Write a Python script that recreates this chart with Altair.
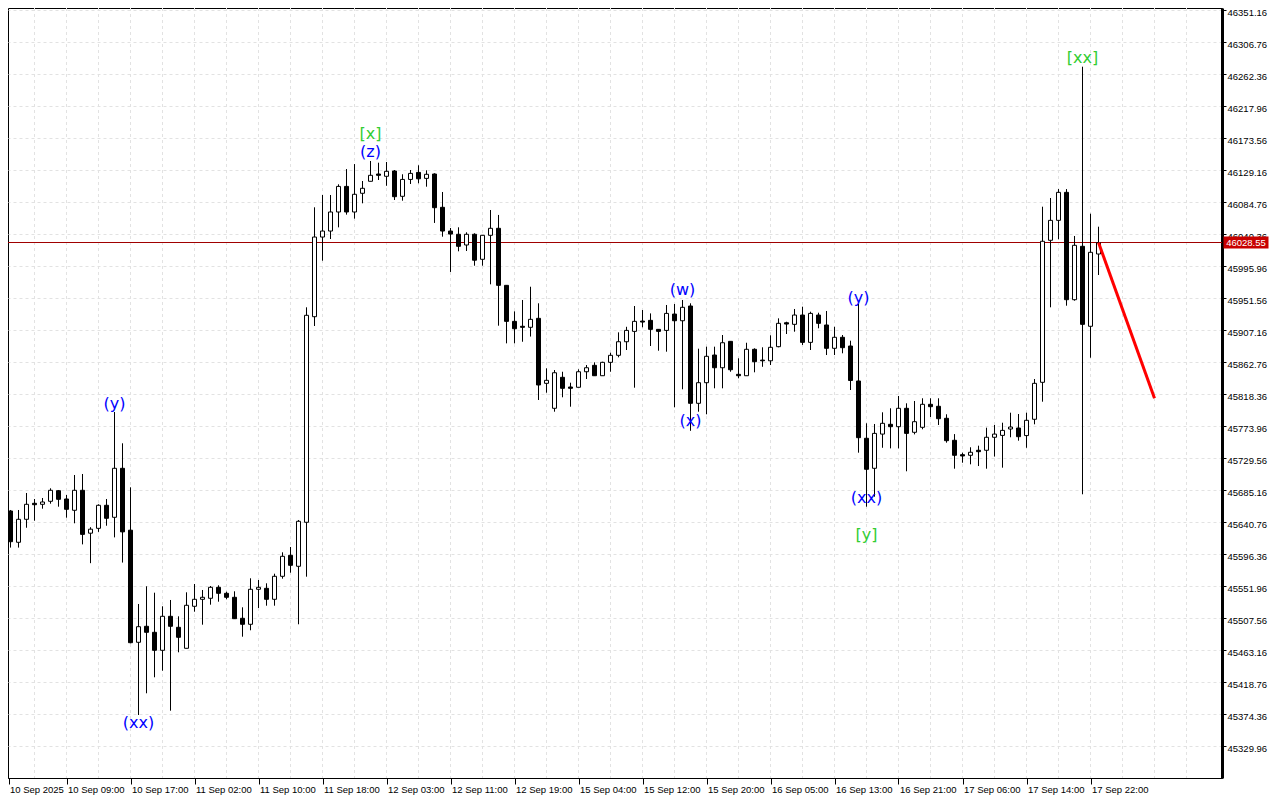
import altair as alt
import pandas as pd

# ---- OHLC data (H1 candles) ----
opens = [45644.51, 45656.03, 45612.60, 45644.51, 45666.71, 45665.32, 45669.49, 45684.19, 45672.68, 45657.00,
         45684.75, 45625.24, 45631.96, 45663.94, 45647.28, 45715.27, 45629.40, 45473.85, 45496.05, 45487.72,
         45462.74, 45509.92, 45494.66, 45465.52, 45523.80, 45533.51, 45534.90, 45550.16, 45541.83, 45536.29,
         45507.15, 45498.83, 45547.39, 45548.77, 45533.51, 45565.42, 45594.56, 45579.30, 45640.35, 45925.62,
         46036.14, 46044.46, 46070.90, 46106.41, 46070.90, 46096.84, 46113.49, 46123.61, 46120.43, 46127.78,
         46092.67, 46116.08, 46125.84, 46117.52, 46123.61, 46077.41, 46044.46, 46039.95, 46025.10, 46039.95,
         46005.25, 46038.56, 46048.27, 45969.13, 45919.17, 45912.30, 45910.91, 45923.34, 45833.16, 45798.52,
         45841.53, 45828.08, 45827.67, 45849.25, 45858.14, 45843.71, 45862.30, 45872.02, 45890.86, 45905.26,
         45919.58, 45920.55, 45908.07, 45906.60, 45929.29, 45920.00, 45940.46, 45805.46, 45834.04, 45872.43,
         45854.80, 45891.42, 45845.65, 45843.71, 45880.38, 45865.41, 45864.44, 45884.01, 45917.24, 45915.02,
         45927.91, 45890.03, 45927.91, 45914.10, 45881.77, 45897.04, 45884.96, 45836.40, 45756.92, 45715.27,
         45762.74, 45776.32, 45772.99, 45798.52, 45765.22, 45772.15, 45804.07, 45801.30, 45784.65, 45754.14,
         45734.16, 45733.33, 45740.27, 45740.27, 45758.31, 45760.94, 45769.79, 45771.18, 45760.67, 45783.27,
         45834.59, 46031.62, 46059.29, 46098.14, 45949.21, 46023.29, 45912.30, 46012.61]
highs = [45658.80, 45657.41, 45657.41, 45681.00, 45672.68, 45674.07, 45687.53, 45685.17, 45678.23, 45705.98,
         45707.37, 45633.57, 45665.32, 45672.68, 45793.39, 45749.96, 45688.91, 45526.99, 45551.55, 45542.67,
         45523.80, 45532.54, 45509.92, 45543.21, 45554.74, 45546.42, 45551.96, 45552.94, 45544.05, 45544.60,
         45522.41, 45562.66, 45560.29, 45555.71, 45569.03, 45598.72, 45606.08, 45643.54, 45938.66, 46077.41,
         46094.48, 46094.48, 46109.32, 46130.45, 46137.39, 46113.90, 46141.66, 46139.30, 46140.27, 46129.16,
         46123.20, 46129.16, 46135.69, 46128.74, 46124.59, 46098.64, 46048.69, 46049.66, 46042.72, 46041.35,
         46038.56, 46073.66, 46066.80, 45969.13, 45933.04, 45948.79, 45967.21, 45944.21, 45853.97, 45851.61,
         45849.25, 45834.04, 45852.58, 45858.56, 45862.30, 45863.14, 45875.62, 45903.92, 45911.61, 45940.46,
         45934.91, 45930.20, 45908.07, 45941.85, 45943.24, 45948.79, 45944.21, 45881.23, 45884.01, 45884.01,
         45900.21, 45891.42, 45867.90, 45889.48, 45881.77, 45883.16, 45899.82, 45923.34, 45918.63, 45936.30,
         45939.49, 45932.56, 45931.17, 45933.53, 45911.61, 45900.21, 45892.32, 45943.24, 45777.70, 45776.74,
         45792.97, 45798.52, 45815.59, 45805.46, 45808.65, 45812.40, 45812.40, 45812.40, 45790.20, 45762.74,
         45736.94, 45744.44, 45746.66, 45771.60, 45775.35, 45778.53, 45792.42, 45790.61, 45792.42, 45839.17,
         46078.24, 46090.32, 46102.71, 46102.71, 46037.59, 46272.49, 46068.53, 46050.49]
lows = [45642.15, 45605.23, 45605.23, 45632.79, 45642.57, 45659.22, 45666.16, 45661.99, 45646.73, 45638.97,
        45609.70, 45583.62, 45627.04, 45635.60, 45619.42, 45584.46, 45472.46, 45372.98, 45403.09, 45425.29,
        45434.45, 45378.94, 45459.97, 45465.52, 45516.31, 45498.27, 45526.02, 45530.18, 45533.51, 45506.18,
        45481.62, 45490.50, 45521.44, 45524.63, 45524.63, 45562.09, 45570.41, 45498.83, 45564.86, 45912.71,
        46003.29, 46033.42, 46049.59, 46067.22, 46061.67, 46082.96, 46113.49, 46115.29, 46107.26, 46087.54,
        46086.57, 46109.74, 46110.70, 46105.99, 46055.69, 46036.61, 45987.68, 46016.36, 46016.78, 45996.36,
        45996.36, 45970.52, 45913.13, 45888.64, 45888.64, 45890.86, 45898.07, 45810.04, 45820.17, 45793.81,
        45813.79, 45800.74, 45827.67, 45839.17, 45843.71, 45843.71, 45849.25, 45869.24, 45879.41, 45827.11,
        45910.91, 45884.96, 45878.43, 45877.05, 45799.91, 45824.89, 45767.29, 45793.81, 45790.20, 45826.27,
        45826.27, 45849.25, 45840.14, 45843.71, 45848.47, 45856.11, 45858.56, 45883.16, 45901.59, 45904.81,
        45886.35, 45879.41, 45909.52, 45872.43, 45872.43, 45874.82, 45823.91, 45736.94, 45661.99, 45675.87,
        45743.74, 45742.91, 45742.91, 45711.12, 45762.33, 45769.38, 45786.41, 45775.35, 45750.81, 45714.73,
        45723.00, 45720.77, 45718.41, 45714.73, 45731.53, 45716.12, 45758.31, 45753.59, 45743.74, 45776.32,
        45807.68, 45938.66, 46033.01, 45940.88, 45947.82, 45679.20, 45868.71, 45983.47]
closes = [45655.06, 45613.43, 45644.51, 45665.32, 45664.77, 45668.52, 45684.75, 45672.26, 45658.38, 45684.75,
          45623.58, 45630.79, 45663.94, 45645.90, 45715.27, 45627.04, 45473.29, 45495.49, 45487.72, 45462.74,
          45509.92, 45496.05, 45480.79, 45525.19, 45533.51, 45536.29, 45550.16, 45541.83, 45536.29, 45506.60,
          45498.83, 45547.39, 45550.16, 45533.51, 45565.42, 45593.17, 45580.68, 45641.74, 45927.56, 46036.14,
          46044.46, 46070.90, 46106.41, 46070.90, 46095.45, 46103.77, 46121.81, 46121.81, 46127.36, 46092.12,
          46116.08, 46124.45, 46116.97, 46123.20, 46076.86, 46044.46, 46040.29, 46023.29, 46039.95, 46003.96,
          46038.56, 46048.27, 45969.13, 45919.17, 45908.90, 45910.91, 45921.95, 45830.85, 45837.32, 45847.86,
          45826.27, 45826.27, 45849.25, 45854.80, 45843.71, 45862.30, 45872.02, 45890.86, 45906.60, 45919.17,
          45918.19, 45908.07, 45905.26, 45930.20, 45920.00, 45938.66, 45805.46, 45834.04, 45870.66, 45854.80,
          45889.48, 45852.02, 45843.71, 45880.38, 45863.14, 45864.44, 45883.16, 45916.40, 45915.44, 45927.91,
          45890.03, 45930.20, 45916.40, 45881.77, 45897.04, 45882.60, 45837.10, 45757.75, 45713.90, 45763.72,
          45777.70, 45772.99, 45798.52, 45763.72, 45779.93, 45804.07, 45800.74, 45784.10, 45753.59, 45733.33,
          45732.36, 45737.50, 45738.33, 45758.31, 45762.74, 45767.88, 45772.57, 45759.13, 45781.86, 45833.16,
          46030.24, 46059.29, 46098.14, 45949.21, 46024.68, 45915.02, 46014.97, 46028.55]

# ---- time axis labels (one every 8 candles) ----
time_labels = ["10 Sep 2025", "10 Sep 09:00", "10 Sep 17:00", "11 Sep 02:00", "11 Sep 10:00",
               "11 Sep 18:00", "12 Sep 03:00", "12 Sep 11:00", "12 Sep 19:00", "15 Sep 04:00",
               "15 Sep 12:00", "15 Sep 20:00", "16 Sep 05:00", "16 Sep 13:00", "16 Sep 21:00",
               "17 Sep 06:00", "17 Sep 14:00", "17 Sep 22:00"]
# first label sits on the left edge of the plot
time_idx = [0.75] + [8 * k for k in range(1, len(time_labels))]
grid_idx = list(range(0, 152, 4))

# ---- price axis labels ----
price_ticks = [46351.16, 46306.76, 46262.36, 46217.96, 46173.56, 46129.16, 46084.76, 46040.36,
               45995.96, 45951.56, 45907.16, 45862.76, 45818.36, 45773.96, 45729.56, 45685.16,
               45640.76, 45596.36, 45551.96, 45507.56, 45463.16, 45418.76, 45374.36, 45329.96]

# ---- wave annotations ----
wave_text = ["(y)", "(xx)", "[x]", "(z)", "(w)", "(x)", "(y)", "(xx)", "[y]", "[xx]"]
wave_idx = [14, 17, 46, 46, 85, 86, 107, 108, 108, 135]
wave_price = [45804.49, 45361.87, 46179.11, 46154.14, 45962.67, 45780.90, 45951.57, 45674.07, 45622.73, 46284.57]
wave_color = ["#0000ff", "#0000ff", "#32cd32", "#0000ff", "#0000ff", "#0000ff", "#0000ff", "#0000ff", "#32cd32", "#32cd32"]

# ---- current price and forecast ----
current_price = 46028.55
forecast_idx = [137, 144]
forecast_price = [46028.55, 45812.40]

n = len(opens)
candles = pd.DataFrame({"i": list(range(n)), "open": opens, "high": highs, "low": lows, "close": closes})
candles["fillc"] = ["#ffffff" if c >= o else "#000000" for o, c in zip(opens, closes)]
waves = pd.DataFrame({"i": wave_idx, "p": wave_price, "t": wave_text, "c": wave_color})
forecast = pd.DataFrame({"i": forecast_idx, "p": forecast_price})
cur = pd.DataFrame({"p": [current_price], "t": [f"{current_price:.2f}"]})
vgrid = pd.DataFrame({"i": grid_idx})

W, H = 1214, 770
xs = alt.Scale(domain=[0.6875, 0.6875 + W / 8], nice=False, zero=False, padding=0)
ys = alt.Scale(domain=[45285.56, 46353.935], nice=False, zero=False, padding=0)

AXF = "Liberation Sans"
label_expr = "[" + ",".join("'" + s + "'" for s in time_labels) + "][round(datum.value / 8)]"

x_axis = alt.Axis(values=time_idx, labelExpr=label_expr, grid=False, title=None,
                  tickSize=6, tickColor="black", domainColor="black", labelAlign="left",
                  labelOffset=1, labelPadding=0, labelFont=AXF, labelFontSize=9.5,
                  labelColor="black", labelBaseline="top", labelOverlap=False)
y_axis = alt.Axis(values=price_ticks, format=".2f", orient="right", title=None, grid=True,
                  gridColor="#e2e2e2", gridDash=[3, 3], tickSize=4, tickColor="black",
                  domainColor="black", domainWidth=3, labelPadding=1, labelOffset=2, labelFont=AXF,
                  labelFontSize=9.5, labelColor="black", labelAlign="left", labelOverlap=False)


def X(field):
    return alt.X(field, scale=xs, axis=x_axis)


def Y(field):
    return alt.Y(field, scale=ys, axis=y_axis)


wicks = alt.Chart(candles).mark_rule(color="black", strokeWidth=1, clip=True).encode(
    x=X("i:Q"), y=Y("low:Q"), y2="high:Q")

grid_layer = alt.Chart(vgrid).mark_rule(color="#e2e2e2", strokeDash=[3, 3], strokeWidth=1, clip=True).encode(
    x=X("i:Q"))

price_line = alt.Chart(cur).mark_rule(color="#a00000", strokeWidth=1).encode(y=Y("p:Q"))

bodies = alt.Chart(candles).mark_bar(width=4, stroke="black", strokeWidth=1, clip=True).encode(
    x=X("i:Q"), y=Y("open:Q"), y2="close:Q", fill=alt.Fill("fillc:N", scale=None))

fc_line = alt.Chart(forecast).mark_line(color="#ff0000", strokeWidth=3, clip=True).encode(
    x=X("i:Q"), y=Y("p:Q"))

labels = alt.Chart(waves).mark_text(font="DejaVu Sans", fontSize=16, align="center", baseline="middle").encode(
    x=X("i:Q"), y=Y("p:Q"), text="t:N", color=alt.Color("c:N", scale=None))

tag_box = alt.Chart(cur).mark_tick(orient="horizontal", thickness=12, size=45, color="#c80000", opacity=1).encode(
    x=alt.value(W + 24), y=Y("p:Q"))

tag_text = alt.Chart(cur).mark_text(font=AXF, fontSize=9.5, color="white", align="center", baseline="middle").encode(
    x=alt.value(W + 24), y=Y("p:Q"), text="t:N")

chart = alt.layer(grid_layer, price_line, wicks, bodies, fc_line, labels, tag_box, tag_text).properties(
    width=W, height=H,
    autosize=alt.AutoSizeParams(type="none"),
    padding={"left": 0, "top": 0, "right": 50, "bottom": 18},
    background="white",
).configure_view(stroke="black", strokeWidth=1)

chart.save("out.html", embed_options={"renderer": "svg", "actions": False})
